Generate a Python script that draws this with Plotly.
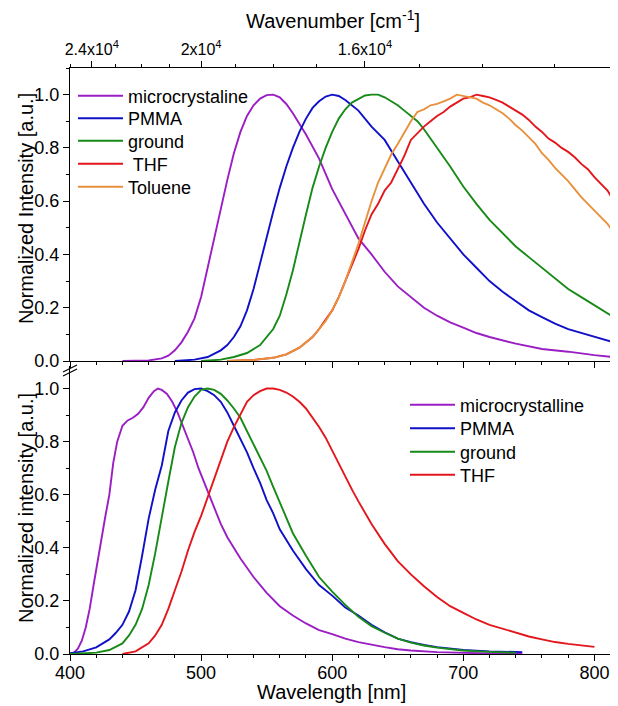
import plotly.graph_objects as go

# ---------------- data ----------------
# Top panel
top_micro_wl = [440, 460, 470, 475, 480, 485, 490, 495, 500, 505, 510, 515, 520, 525, 530, 535, 540, 545, 550, 555,
                560, 565, 570, 580, 590, 600, 610, 620, 630, 640, 650, 660, 670, 680, 690, 700, 710, 720, 740, 760,
                780, 800, 818]
top_micro_y = [0, 0.002, 0.01, 0.02, 0.04, 0.07, 0.11, 0.16, 0.24, 0.35, 0.47, 0.57, 0.68, 0.78, 0.86, 0.92, 0.96,
               0.985, 0.998, 1.0, 0.99, 0.965, 0.93, 0.85, 0.76, 0.645, 0.55, 0.46, 0.4, 0.335, 0.28, 0.24, 0.2,
               0.17, 0.145, 0.125, 0.105, 0.09, 0.065, 0.045, 0.035, 0.022, 0.013]

top_pmma_wl = [480, 495, 505, 515, 520, 525, 530, 535, 540, 545, 550, 555, 560, 565, 570, 575, 580, 585, 590, 595,
               600, 605, 610, 620, 630, 640, 650, 660, 670, 680, 690, 700, 710, 720, 730, 740, 750, 760, 770, 780,
               790, 800, 810, 818]
top_pmma_y = [0, 0.005, 0.015, 0.04, 0.06, 0.09, 0.13, 0.19, 0.27, 0.37, 0.47, 0.56, 0.65, 0.73, 0.8, 0.86, 0.91,
              0.95, 0.975, 0.993, 1.0, 0.995, 0.98, 0.94, 0.88, 0.83, 0.75, 0.67, 0.59, 0.52, 0.46, 0.4, 0.35, 0.3,
              0.26, 0.225, 0.19, 0.165, 0.14, 0.12, 0.105, 0.09, 0.075, 0.065]

top_ground_wl = [500, 515, 525, 535, 545, 550, 555, 560, 565, 570, 575, 580, 585, 590, 595, 600, 605, 610, 615, 620,
                 625, 630, 635, 640, 645, 650, 655, 660, 665, 670, 680, 690, 700, 710, 720, 730, 740, 750, 760, 770,
                 780, 790, 800, 810, 818]
top_ground_y = [0, 0.005, 0.015, 0.03, 0.06, 0.09, 0.12, 0.17, 0.25, 0.34, 0.45, 0.55, 0.65, 0.73, 0.8, 0.86, 0.91,
                0.945, 0.97, 0.985, 0.997, 1.0, 1.0, 0.99, 0.975, 0.96, 0.94, 0.92, 0.9, 0.87, 0.8, 0.73, 0.655,
                0.59, 0.53, 0.48, 0.43, 0.39, 0.35, 0.31, 0.27, 0.24, 0.21, 0.18, 0.155]

top_thf_wl = [520, 540, 555, 565, 575, 585, 590, 595, 600, 605, 610, 615, 620, 625, 630, 635, 640, 645, 650, 655,
              660, 665, 670, 675, 680, 685, 690, 695, 700, 705, 710, 715, 720, 725, 730, 735, 740, 745, 750, 755,
              760, 765, 770, 775, 780, 785, 790, 795, 800, 805, 810, 815, 818]
top_thf_y = [0, 0.004, 0.012, 0.025, 0.05, 0.09, 0.12, 0.155, 0.19, 0.24, 0.3, 0.36, 0.42, 0.49, 0.55, 0.59, 0.64,
             0.67, 0.72, 0.77, 0.83, 0.855, 0.88, 0.9, 0.92, 0.935, 0.955, 0.97, 0.985, 0.99, 1.0, 0.995, 0.99,
             0.98, 0.97, 0.955, 0.94, 0.925, 0.905, 0.88, 0.86, 0.835, 0.82, 0.8, 0.785, 0.765, 0.74, 0.72, 0.69,
             0.665, 0.64, 0.6, 0.58]

top_tol_wl = [520, 540, 555, 565, 575, 585, 590, 595, 600, 605, 610, 615, 620, 625, 630, 635, 640, 645, 650, 655,
              660, 665, 670, 675, 680, 685, 690, 695, 700, 705, 710, 715, 720, 725, 730, 735, 740, 745, 750, 755,
              760, 765, 770, 775, 780, 785, 790, 795, 800, 805, 810, 815, 818]
top_tol_y = [0, 0.004, 0.012, 0.025, 0.05, 0.09, 0.12, 0.15, 0.19, 0.24, 0.3, 0.37, 0.44, 0.52, 0.6, 0.67, 0.725,
             0.775, 0.815, 0.86, 0.9, 0.935, 0.945, 0.96, 0.965, 0.975, 0.985, 1.0, 0.995, 0.99, 0.985, 0.97, 0.96,
             0.945, 0.93, 0.91, 0.885, 0.865, 0.84, 0.815, 0.78, 0.755, 0.725, 0.7, 0.675, 0.645, 0.615, 0.59,
             0.565, 0.54, 0.515, 0.48, 0.46]

# Bottom panel
bot_micro_wl = [400, 403, 406, 409, 412, 415, 418, 421, 424, 427, 430, 433, 436, 440, 444, 448, 452, 456, 460, 464,
                467, 470, 474, 478, 482, 486, 490, 494, 498, 502, 506, 510, 515, 520, 525, 530, 540, 550, 560, 570,
                580, 590, 600, 610, 620, 630, 640, 650, 660, 680, 700, 720, 745]
bot_micro_y = [0.0, 0.005, 0.02, 0.05, 0.1, 0.17, 0.26, 0.35, 0.44, 0.52, 0.6, 0.72, 0.8, 0.86, 0.88, 0.89, 0.905,
               0.93, 0.965, 0.99, 1.0, 0.995, 0.98, 0.95, 0.91, 0.86, 0.81, 0.76, 0.7, 0.65, 0.6, 0.55, 0.49, 0.44,
               0.4, 0.36, 0.29, 0.23, 0.18, 0.145, 0.115, 0.09, 0.075, 0.058, 0.045, 0.035, 0.026, 0.018, 0.013,
               0.007, 0.004, 0.002, 0.001]

bot_pmma_wl = [400, 410, 420, 430, 435, 440, 445, 450, 455, 460, 465, 470, 475, 480, 485, 490, 495, 500, 505, 510,
               515, 520, 525, 530, 535, 540, 545, 550, 555, 560, 570, 580, 590, 600, 610, 620, 630, 640, 650, 660,
               670, 680, 690, 700, 720, 745]
bot_pmma_y = [0.003, 0.01, 0.025, 0.055, 0.08, 0.11, 0.16, 0.24, 0.37, 0.51, 0.62, 0.71, 0.84, 0.91, 0.955, 0.985,
              0.998, 1.0, 0.99, 0.975, 0.95, 0.91, 0.86, 0.81, 0.76, 0.7, 0.645, 0.58, 0.53, 0.47, 0.39, 0.32, 0.26,
              0.22, 0.175, 0.145, 0.11, 0.082, 0.058, 0.045, 0.034, 0.026, 0.02, 0.015, 0.01, 0.007]

bot_ground_wl = [400, 420, 430, 440, 445, 450, 455, 460, 465, 470, 475, 480, 485, 490, 495, 500, 505, 510, 515, 520,
                 525, 530, 535, 540, 545, 550, 555, 560, 565, 570, 580, 590, 600, 610, 620, 630, 640, 650, 660, 670,
                 680, 690, 700, 720, 740]
bot_ground_y = [0.0, 0.005, 0.015, 0.04, 0.07, 0.11, 0.17, 0.26, 0.38, 0.52, 0.65, 0.78, 0.87, 0.93, 0.97, 0.995,
                1.0, 0.995, 0.98, 0.955, 0.925, 0.89, 0.84, 0.79, 0.74, 0.69, 0.63, 0.57, 0.51, 0.455, 0.37, 0.29,
                0.235, 0.185, 0.14, 0.105, 0.08, 0.058, 0.043, 0.032, 0.024, 0.018, 0.013, 0.008, 0.005]

bot_thf_wl = [440, 450, 460, 465, 470, 475, 480, 485, 490, 495, 500, 505, 510, 515, 520, 525, 530, 535, 540, 545,
              550, 555, 560, 565, 570, 575, 580, 585, 590, 595, 600, 605, 610, 615, 620, 630, 640, 650, 660, 670,
              680, 690, 700, 710, 720, 730, 740, 750, 760, 770, 780, 790, 800]
bot_thf_y = [0.0, 0.01, 0.04, 0.07, 0.11, 0.17, 0.24, 0.31, 0.39, 0.46, 0.52, 0.59, 0.66, 0.73, 0.8, 0.855, 0.905,
             0.95, 0.975, 0.99, 1.0, 1.0, 0.995, 0.985, 0.97, 0.95, 0.925, 0.89, 0.855, 0.815, 0.765, 0.72, 0.665,
             0.62, 0.575, 0.49, 0.415, 0.35, 0.3, 0.255, 0.215, 0.18, 0.155, 0.13, 0.11, 0.095, 0.08, 0.066,
             0.055, 0.045, 0.038, 0.032, 0.027]

x_ticks = [400, 500, 600, 700, 800]
y_ticks = [0.0, 0.2, 0.4, 0.6, 0.8, 1.0]
wn_major = [24000, 20000, 16000]
wn_major_text = ["2.4x10<sup>4</sup>", "2x10<sup>4</sup>", "1.6x10<sup>4</sup>"]
wn_minor = [25000, 23000, 22000, 21000, 19000, 18000, 17000, 15000, 14000, 13000]

# ---------------- style ----------------
C_PURPLE = "#9A1EC4"
C_BLUE = "#1010C8"
C_GREEN = "#178A17"
C_RED = "#E3161C"
C_ORANGE = "#E8913C"
FONT = "Liberation Sans, Arial, sans-serif"
LW = 1.9
XR = [400, 818]
TICKF = 18
TITLEF = 20
LEGF = 18

# plot area in window pixels (page body adds an 8 px offset)
PX_L, PX_T, PX_B = 70, 68, 654
PW, PH = 548, PX_B - PX_T


def py(v):  # window pixel row -> paper y
    return (PX_B - v) / PH


def px(v):  # window pixel column -> paper x
    return (v - PX_L) / PW


fig = go.Figure()

top_series = [
    (top_micro_wl, top_micro_y, C_PURPLE, "microcrystaline", 96),
    (top_pmma_wl, top_pmma_y, C_BLUE, "PMMA", 118.5),
    (top_ground_wl, top_ground_y, C_GREEN, "ground", 141),
    (top_thf_wl, top_thf_y, C_RED, " THF", 164),
    (top_tol_wl, top_tol_y, C_ORANGE, "Toluene", 187),
]
bot_series = [
    (bot_micro_wl, bot_micro_y, C_PURPLE, "microcrystalline", 405),
    (bot_pmma_wl, bot_pmma_y, C_BLUE, "PMMA", 428.5),
    (bot_ground_wl, bot_ground_y, C_GREEN, "ground", 452),
    (bot_thf_wl, bot_thf_y, C_RED, "THF", 475),
]

legends = {}
n = 0
for group, xa, ya, lx in ((top_series, "x2", "y2", 73), (bot_series, "x", "y", 405)):
    for x, y, color, name, row in group:
        n += 1
        key = "legend" if n == 1 else f"legend{n}"
        fig.add_trace(go.Scatter(x=x, y=y, mode="lines", name=name, line=dict(color=color, width=LW),
                                 xaxis=xa, yaxis=ya, legend=key))
        legends[key] = dict(x=px(lx), y=py(row), xanchor="left", yanchor="middle",
                            bgcolor="rgba(0,0,0,0)", font=dict(size=LEGF), itemwidth=45)

# invisible trace to activate the wavenumber axis
fig.add_trace(go.Scatter(x=[XR[0]], y=[0], mode="markers", marker=dict(opacity=0), showlegend=False,
                         hoverinfo="skip", xaxis="x3", yaxis="y2"))

axis_common = dict(showline=True, linecolor="black", linewidth=1.2, ticks="outside", tickcolor="black",
                   tickwidth=1.2, showgrid=False, zeroline=False, tickfont=dict(size=TICKF, color="black"))
minor_x = dict(dtick=20, tick0=400, ticks="outside", ticklen=3, tickcolor="black", tickwidth=1.2)
minor_y = dict(dtick=0.1, tick0=0, ticks="outside", ticklen=3, tickcolor="black", tickwidth=1.2)

fig.update_layout(
    width=610, height=698,
    margin=dict(l=62, r=0, t=60, b=52),
    paper_bgcolor="white", plot_bgcolor="white",
    font=dict(family=FONT, color="black"),
    showlegend=True,
    xaxis=dict(domain=[0, 1], range=XR, anchor="y", tickvals=x_ticks, ticklen=6, minor=minor_x,
               ticklabelstandoff=-4, **axis_common),
    xaxis2=dict(domain=[0, 1], range=XR, anchor="y2", tickvals=x_ticks, ticklen=6, showticklabels=False,
                minor=minor_x, **axis_common),
    xaxis3=dict(range=XR, overlaying="x2", anchor="y2", side="top",
                tickvals=[1e7 / w for w in wn_major], ticktext=wn_major_text, ticklen=6,
                minor=dict(tickvals=[1e7 / w for w in wn_minor], ticks="outside", ticklen=3,
                           tickcolor="black", tickwidth=1.2),
                **{**axis_common, "tickfont": dict(size=16, color="black")}),
    yaxis=dict(domain=[0, py(366)], range=[0, 1.085], anchor="x", tickvals=y_ticks, tickformat=".1f", ticklen=6,
               minor=minor_y, **axis_common),
    yaxis2=dict(domain=[py(361), 1], range=[0, 1.1], anchor="x2", tickvals=y_ticks, tickformat=".1f", ticklen=6,
                minor=minor_y, **axis_common),
    **legends,
)

# axis titles
title_font = dict(family=FONT, size=TITLEF, color="black")
fig.add_annotation(text="Wavelength [nm]", xref="paper", yref="paper", x=px(331), y=py(692),
                   xanchor="center", yanchor="middle", showarrow=False, font=title_font)
fig.add_annotation(text="Wavenumber [cm<sup>-1</sup>]", xref="paper", yref="paper", x=px(333), y=py(20),
                   xanchor="center", yanchor="middle", showarrow=False, font=title_font)
fig.add_annotation(text="Normalized Intensity [a.u.]", xref="paper", yref="paper", x=px(26), y=py(209),
                   xanchor="center", yanchor="middle", textangle=-90, showarrow=False, font=title_font)
fig.add_annotation(text="Normalized intensity [a.u.]", xref="paper", yref="paper", x=px(26), y=py(508),
                   xanchor="center", yanchor="middle", textangle=-90, showarrow=False, font=title_font)

# axis break marks on the left spine
for dy in (0, 4):
    fig.add_shape(type="line", xref="paper", yref="paper",
                  x0=px(63), y0=py(372 + dy), x1=px(77), y1=py(365 + dy),
                  line=dict(color="black", width=1.2))

fig.write_html("out.html")
